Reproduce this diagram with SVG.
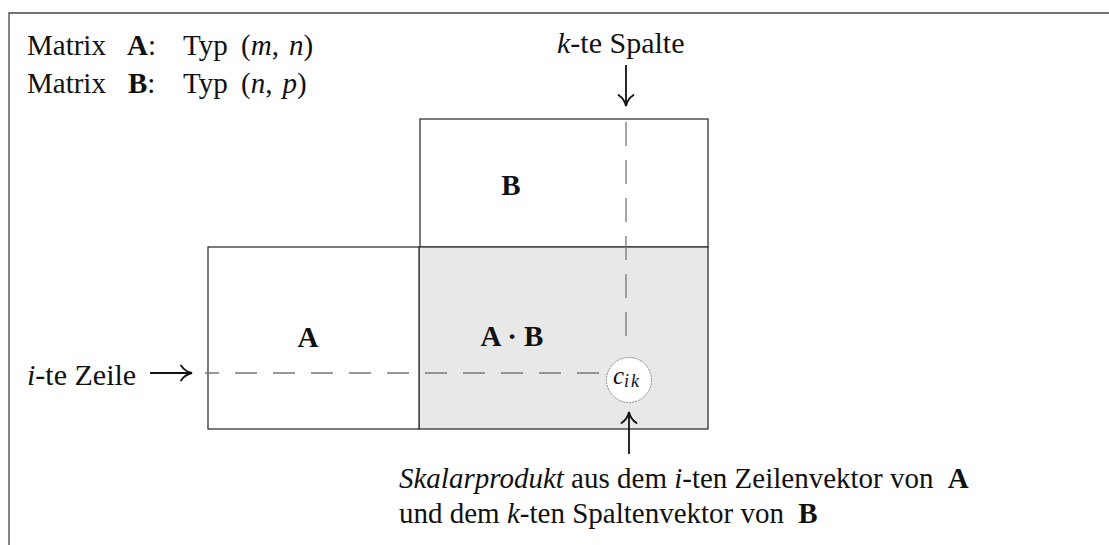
<svg xmlns="http://www.w3.org/2000/svg" width="1109" height="545" viewBox="0 0 1109 545">
<style>
  .t { font-family: "Liberation Serif", "Times New Roman", serif; font-size: 29px; fill: #111; }
  .b { font-weight: bold; }
  .i { font-style: italic; }
  .box { fill: #fff; stroke: #333; stroke-width: 1.3; }
  .shade { fill: #e8e8e8; stroke: #333; stroke-width: 1.3; }
  .dash { stroke: #777; stroke-width: 1.3; fill: none; }
  .arr { stroke: #111; stroke-width: 1.8; fill: none; marker-end: url(#head); }
  .frame { stroke: #444; stroke-width: 1.3; fill: none; }
</style>
<defs>
  <marker id="head" viewBox="-1 -9 14 18" refX="11" refY="0" markerWidth="14" markerHeight="18" markerUnits="userSpaceOnUse" orient="auto">
    <path d="M0,-7.5 Q4,-1.5 11,0 Q4,1.5 0,7.5" fill="none" stroke="#111" stroke-width="1.8" stroke-linecap="round"/>
  </marker>
</defs>
<rect width="1109" height="545" fill="#fff"/>
<path class="frame" d="M9,545 V13 H1109"/>

<g id="legend">
  <text class="t" x="27" y="55">Matrix</text>
  <text class="t" x="127" y="55"><tspan class="b">A</tspan>:</text>
  <text class="t" x="183" y="55">Typ</text>
  <text class="t" x="241" y="55">(<tspan class="i">m</tspan>,<tspan class="i" dx="10">n</tspan>)</text>
  <text class="t" x="27" y="93">Matrix</text>
  <text class="t" x="128" y="93"><tspan class="b">B</tspan>:</text>
  <text class="t" x="183" y="93">Typ</text>
  <text class="t" x="241" y="93">(<tspan class="i">n</tspan>,<tspan class="i" dx="10">p</tspan>)</text>
</g>

<g id="matrixB">
  <rect class="box" x="420" y="119" width="288" height="128"/>
  <text class="t b" x="511" y="195" text-anchor="middle">B</text>
</g>
<g id="matrixAB">
  <rect class="shade" x="419" y="247" width="289" height="182"/>
  <text class="t b" x="512" y="346" text-anchor="middle">A · B</text>
</g>
<g id="matrixA">
  <rect class="box" x="208" y="247" width="211" height="182"/>
  <text class="t b" x="308" y="347" text-anchor="middle">A</text>
</g>

<g id="connectors">
  <line class="dash" x1="626" y1="122" x2="626" y2="345" stroke-dasharray="24 14"/>
  <line class="dash" x1="599" y1="373" x2="205" y2="373" stroke-dasharray="22 16"/>
  <line class="arr" x1="626" y1="65" x2="626" y2="106"/>
  <line class="arr" x1="629" y1="454" x2="629" y2="412"/>
  <line class="arr" x1="150" y1="373" x2="192" y2="373"/>
</g>

<g id="cik">
  <circle cx="629" cy="380" r="22.5" fill="#fff" stroke="#888" stroke-width="1" stroke-dasharray="2 1"/>
  <text class="t i" x="613" y="384" style="font-size:25px">c<tspan dy="3" style="font-size:18px" letter-spacing="2">ik</tspan></text>
</g>

<g id="labels">
  <text class="t" x="557" y="53" style="font-size:30px"><tspan class="i">k</tspan>-te Spalte</text>
  <text class="t" x="27" y="385" style="font-size:30px"><tspan class="i">i</tspan>-te Zeile</text>
  <text class="t" x="399" y="488"><tspan class="i">Skalarprodukt</tspan> aus dem <tspan class="i">i</tspan>-ten Zeilenvektor von <tspan class="b" dx="7">A</tspan></text>
  <text class="t" x="399" y="523">und dem <tspan class="i">k</tspan>-ten Spaltenvektor von <tspan class="b" dx="7">B</tspan></text>
</g>
</svg>
